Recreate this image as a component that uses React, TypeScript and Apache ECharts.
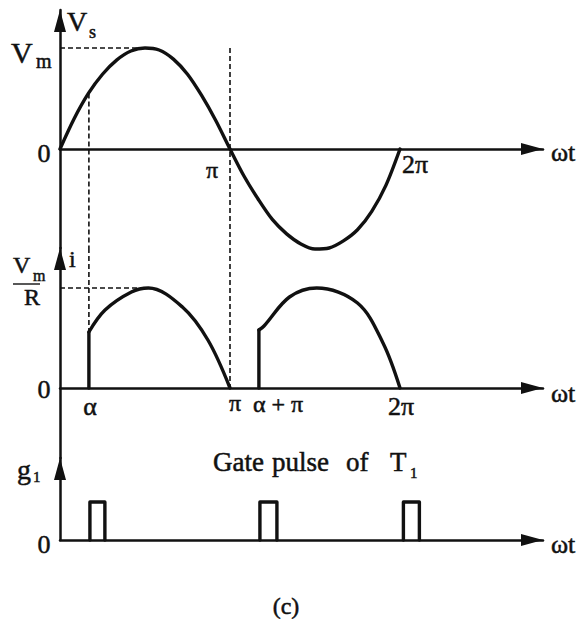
import React, { useEffect, useRef } from "react";
import * as echarts from "echarts";

// Angles are in units of π (15° steps); amplitudes are normalised to the peak value.
const vsAngle = [
  0, 0.083, 0.167, 0.25, 0.333, 0.417, 0.5, 0.583, 0.667, 0.75, 0.833, 0.917, 1.0,
  1.083, 1.167, 1.25, 1.333, 1.417, 1.5, 1.583, 1.667, 1.75, 1.833, 1.917, 2.0,
];
const vsValue = [
  0, 0.3, 0.55, 0.74, 0.88, 0.97, 1.0, 0.98, 0.89, 0.74, 0.53, 0.28, 0,
  -0.27, -0.5, -0.7, -0.84, -0.94, -0.99, -0.98, -0.91, -0.8, -0.62, -0.36, 0,
];
const vsAtAlpha = 0.55;

// Load current: conducts from α to π and from α+π to 2π
const iArc1Angle = [0.17, 0.265, 0.42, 0.52, 0.72, 0.87, 1.0];
const iArc1Value = [0.56, 0.78, 0.96, 1.0, 0.81, 0.48, 0];
const iArc2Angle = [1.17, 1.2, 1.35, 1.51, 1.75, 1.9, 2.0];
const iArc2Value = [0.58, 0.62, 0.91, 1.0, 0.85, 0.45, 0];

// Gate pulses of T1
const pulseStart = [0.176, 1.176, 2.02];
const pulseWidth = [0.088, 0.1, 0.094];
const pulseHeight = [1, 1, 1];

// Angle markers
const alphaAngle = 0.17;
const piAngle = 1.0;

const INK = "#111111";
const SERIF = "'Liberation Serif', 'DejaVu Serif', 'Times New Roman', serif";

const X_MAX = 483 / 170;
const Y_RANGES = [
  { min: -99 / 101, max: 139 / 101 },
  { min: -0.7, max: 1.4 },
  { min: 0, max: 82 / 38 },
];

const zip = (a: number[], b: number[]) => a.map((x, k) => [x, b[k]]);

function axisLine() {
  return {
    onZero: true,
    lineStyle: { color: INK, width: 2.5 },
    symbol: ["none", "triangle"],
    symbolSize: [12, 22],
    symbolOffset: [0, -11],
  };
}

function xAxisFor(gridIndex: number) {
  return {
    type: "value",
    gridIndex,
    min: 0,
    max: X_MAX,
    axisLine: axisLine(),
    axisTick: { show: false },
    axisLabel: { show: false },
    splitLine: { show: false },
  };
}

function yAxisFor(gridIndex: number) {
  return {
    type: "value",
    gridIndex,
    min: Y_RANGES[gridIndex].min,
    max: Y_RANGES[gridIndex].max,
    axisLine: { ...axisLine(), onZero: false },
    axisTick: { show: false },
    axisLabel: { show: false },
    splitLine: { show: false },
  };
}

function curve(gridIndex: number, data: any[], smooth: number | boolean) {
  return {
    type: "line",
    xAxisIndex: gridIndex,
    yAxisIndex: gridIndex,
    data,
    smooth,
    symbol: "none",
    clip: false,
    connectNulls: false,
    lineStyle: { color: INK, width: 3.4, cap: "round", join: "round" },
    silent: true,
  };
}

function guide(gridIndex: number, data: number[][]) {
  return {
    type: "line",
    xAxisIndex: gridIndex,
    yAxisIndex: gridIndex,
    data,
    symbol: "none",
    clip: false,
    lineStyle: { color: INK, width: 1.6, type: [5, 3] },
    silent: true,
  };
}

function label(text: string, x: number, y: number, size: number, align = "left") {
  return {
    type: "text",
    x,
    y,
    style: {
      text,
      fill: INK,
      stroke: INK,
      lineWidth: 0.5,
      font: `${size}px ${SERIF}`,
      textAlign: align,
      textVerticalAlign: "middle",
    },
    silent: true,
  };
}

export default function App() {
  const ref = useRef<HTMLDivElement>(null);

  useEffect(() => {
    if (!ref.current) return;
    const chart = echarts.init(ref.current, null, { renderer: "svg" });

    const vsPeakIdx = vsValue.indexOf(Math.max(...vsValue));
    const iPeakIdx = iArc1Value.indexOf(Math.max(...iArc1Value));

    const pulses: any[] = [];
    pulseStart.forEach((s, k) => {
      const e = s + pulseWidth[k];
      pulses.push([s, 0], [s, pulseHeight[k]], [e, pulseHeight[k]], [e, 0], null);
    });

    const series: any[] = [
      // supply voltage
      curve(0, zip(vsAngle, vsValue), 0.3),
      guide(0, [[0, vsValue[vsPeakIdx]], [vsAngle[vsPeakIdx], vsValue[vsPeakIdx]]]),
      guide(0, [[alphaAngle, vsAtAlpha], [alphaAngle, Y_RANGES[0].min]]),
      guide(0, [[piAngle, vsValue[vsPeakIdx]], [piAngle, Y_RANGES[0].min]]),
      // load current
      curve(1, zip(iArc1Angle, iArc1Value), 0.35),
      curve(1, zip(iArc2Angle, iArc2Value), 0.35),
      curve(1, [[iArc1Angle[0], 0], [iArc1Angle[0], iArc1Value[0]], null, [iArc2Angle[0], 0], [iArc2Angle[0], iArc2Value[0]]], false),
      guide(1, [[0, iArc1Value[iPeakIdx]], [iArc1Angle[iPeakIdx], iArc1Value[iPeakIdx]]]),
      guide(1, [[alphaAngle, Y_RANGES[1].max], [alphaAngle, iArc1Value[0]]]),
      guide(1, [[piAngle, Y_RANGES[1].max], [piAngle, 0]]),
      // gate pulses
      curve(2, pulses, false),
    ];

    const graphic: any[] = [
      // voltage panel
      label("V", 67, 21, 28),
      label("s", 89, 32, 18),
      label("V", 11, 52, 30),
      label("m", 36, 61, 20),
      label("0", 44, 153, 26, "center"),
      label("π", 212, 170, 24, "center"),
      label("2π", 402, 164, 26),
      label("ωt", 551, 152, 26),
      // current panel
      label("i", 69, 259, 24),
      label("V", 13, 265, 24),
      label("m", 33, 275, 16),
      { type: "line", shape: { x1: 13, y1: 284, x2: 40, y2: 284 }, style: { stroke: INK, lineWidth: 1.4 }, silent: true },
      label("R", 24, 297, 24),
      label("0", 44, 389, 26, "center"),
      label("α", 90, 406, 26, "center"),
      label("π", 235, 403, 24, "center"),
      label("α + π", 253, 404, 24),
      label("2π", 401, 406, 26, "center"),
      label("ωt", 551, 393, 26),
      // gate panel
      label("g", 17, 469, 28),
      label("1", 33, 477, 15),
      label("Gate", 213, 462, 27),
      label("pulse", 272, 462, 27),
      label("of", 346, 462, 27),
      label("T", 390, 462, 27),
      label("1", 410, 473, 15),
      label("0", 44, 544, 26, "center"),
      label("ωt", 551, 544, 26),
      label("(c)", 286, 606, 24, "center"),
    ];

    chart.setOption({
      animation: false,
      backgroundColor: "#ffffff",
      grid: [
        { left: 60, right: 33, top: 10, height: 238 },
        { left: 60, right: 33, top: 248, height: 210 },
        { left: 60, right: 33, top: 458, height: 82 },
      ],
      xAxis: [xAxisFor(0), xAxisFor(1), xAxisFor(2)],
      yAxis: [yAxisFor(0), yAxisFor(1), yAxisFor(2)],
      series,
      graphic,
    });

    return () => chart.dispose();
  }, []);

  return (
    <div
      ref={ref}
      style={{ position: "fixed", left: 0, top: 0, width: 576, height: 619 }}
    />
  );
}
